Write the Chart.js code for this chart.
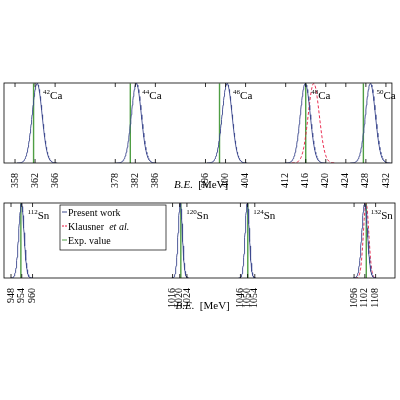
<!DOCTYPE html>
<html><head><meta charset="utf-8">
<script src="https://cdn.jsdelivr.net/npm/chart.js@4"></script>
<style>body{margin:0;background:#fff}#a,#b{position:absolute;left:0;width:400px}#a{top:75px;height:125px}#b{top:195px;height:125px}</style>
</head><body>
<div id="a"><canvas id="c1"></canvas></div><div id="b"><canvas id="c2"></canvas></div>
<script>
// Ca panel
const caMass=[42,44,46,48,50];
const caPresent=[362.4,382.2,400.3,415.9,428.9];
const caSigma=[1.0,1.0,1.0,1.0,1.0];
const caKlausner=[null,null,null,417.6,null];
const caKlausSigma=[null,null,null,1.1,null];
const caExp=[361.7,381.0,398.8,416.0,427.5];
const caTicks=[358,362,366,378,382,386,396,400,404,412,416,420,424,428,432];
// Sn panel
const snMass=[112,120,124,132];
const snPresent=[953.8,1020.3,1049.8,1101.9];
const snSigma=[1.5,1.2,1.2,1.6];
const snKlausner=[null,null,null,1102.7];
const snKlausSigma=[null,null,null,1.5];
const snExp=[953.5,1020.6,1050.1,1102.8];
const snTicks=[948,954,960,1016,1020,1024,1046,1050,1054,1096,1102,1108];
// broken-axis segment shifts for Sn panel (axis unit = value - shift)
const snShift=[944.1,922.1,914.3,901.0];

const BLUE='#3d4a8f',RED='#e8173f',GREEN='#4f9e44';
const FONT='Liberation Serif';

function segIdx(v,centers){let b=0,d=1e9;centers.forEach((c,i)=>{if(Math.abs(v-c)<d){d=Math.abs(v-c);b=i;}});return b;}
function gauss(c,s,tf){const p=[];for(let x=c-4*s;x<=c+4*s+1e-9;x+=s/10){p.push({x:tf(x),y:Math.exp(-0.5*((x-c)/s)**2)});}return p;}

function build(id,mass,pres,sig,kl,kls,exp,ticks,tf,inv,xmin,xmax,legend,padB,titleOff){
  const ds=[];
  pres.forEach((c,i)=>{
    ds.push({label:'Present work',data:gauss(c,sig[i],v=>tf(v,i)),borderColor:BLUE,borderWidth:0.9,pointRadius:0,tension:0});
    if(kl[i]!=null) ds.push({label:'Klausner',data:gauss(kl[i],kls[i],v=>tf(v,i)),borderColor:RED,borderWidth:0.9,borderDash:[3,2],pointRadius:0});
    ds.push({label:'Exp',data:[{x:tf(exp[i],i),y:0},{x:tf(exp[i],i),y:1}],borderColor:GREEN,borderWidth:1.4,pointRadius:0});
  });
  const labels={id:'lab',afterDraw(ch){
    const c=ch.ctx,a=ch.chartArea,xs=ch.scales.x;
    c.save();c.strokeStyle='#000';c.lineWidth=0.8;c.strokeRect(a.left,a.top,a.right-a.left,a.bottom-a.top);
    ticks.forEach(t=>{const px=xs.getPixelForValue(tf(t,segIdx(t,pres)));c.beginPath();c.moveTo(px,a.top);c.lineTo(px,a.top+4);c.moveTo(px,a.bottom);c.lineTo(px,a.bottom-4);c.stroke();});
    c.fillStyle='#000';c.textBaseline='alphabetic';
    pres.forEach((p,i)=>{let px=xs.getPixelForValue(tf(p,i))+(id==='c1'?6:6);const py=a.top+16;
      c.font='7px '+FONT;c.fillText(String(mass[i]),px,py-5);const w=c.measureText(String(mass[i])).width;
      c.font='11px '+FONT;c.fillText(id==='c1'?'Ca':'Sn',px+w,py);});
    c.font='italic 11px '+FONT;const tx=a.left+(a.right-a.left)/2-24;const ty=a.bottom+titleOff;
    c.fillText('B.E.',tx,ty);c.font='11px '+FONT;c.fillText(' [MeV]',tx+c.measureText('B.E.').width+2,ty);
    if(legend){const lx=a.left+56,ly=a.top+2,lw=106,lh=45;c.fillStyle='#fff';c.fillRect(lx,ly,lw,lh);c.strokeStyle='#000';c.lineWidth=0.7;c.strokeRect(lx,ly,lw,lh);
      const items=[['Present work',BLUE,[]],['Klausner ',RED,[2,1]],['Exp. value',GREEN,[]]];
      items.forEach((it,k)=>{const y=ly+10+k*14;c.strokeStyle=it[1];c.setLineDash(it[2]);c.lineWidth=1;c.beginPath();c.moveTo(lx+2,y-3);c.lineTo(lx+7,y-3);c.stroke();c.setLineDash([]);
        c.fillStyle='#000';c.font='10px '+FONT;c.fillText(it[0],lx+8,y+1);if(k===1){c.font='italic 10px '+FONT;c.fillText('et al.',lx+8+c.measureText('Klausner ').width+2,y+1);}});}
    c.restore();}};
  new Chart(document.getElementById(id),{type:'line',data:{datasets:ds},plugins:[labels],
    options:{animation:false,responsive:true,maintainAspectRatio:false,
      layout:{padding:{left:4,right:5,top:8,bottom:padB}},
      plugins:{legend:{display:false},tooltip:{enabled:false}},
      scales:{x:{type:'linear',min:xmin,max:xmax,grid:{display:false},border:{display:false},
        afterBuildTicks(s){s.ticks=ticks.map(t=>({value:tf(t,segIdx(t,pres))}));},
        ticks:{autoSkip:false,minRotation:90,maxRotation:90,padding:2,color:'#000',font:{family:FONT,size:10},callback:(v)=>String(inv(v))}},
        y:{min:0,max:1.005,display:false}}}});
}
const tfCa=(v)=>v;
build('c1',caMass,caPresent,caSigma,caKlausner,caKlausSigma,caExp,caTicks,tfCa,v=>Math.round(v),355.8,433.2,false,10,25);
const tfSn=(v,i)=>v-snShift[i];
const invSn=(u)=>{const t=snTicks.find(t=>Math.abs(tfSn(t,segIdx(t,snPresent))-u)<1e-6);return t;};
build('c2',snMass,snPresent,snSigma,snKlausner,snKlausSigma,snExp,snTicks,tfSn,invSn,0,217.8,true,10,31);
</script></body></html>
